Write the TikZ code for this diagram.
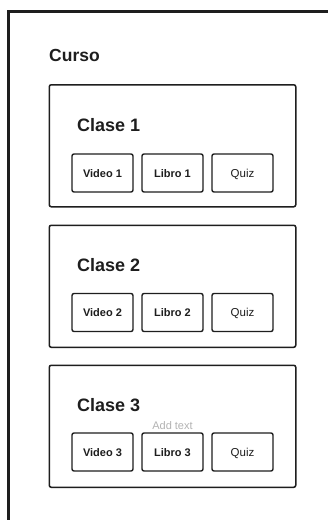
\documentclass[tikz,border=0pt]{standalone}
\usepackage{fontspec}
\setmainfont{Liberation Sans}
\definecolor{ink}{HTML}{1E1E1E}
\definecolor{hint}{HTML}{B3B3B3}
\begin{document}
\begin{tikzpicture}[x=1pt,y=-1pt,
  frame/.style={line width=3pt, draw=ink},
  clase/.style={draw=ink, line width=1.5pt, rounded corners=2pt,
    minimum width=246.5pt, minimum height=122pt, inner sep=0pt, anchor=north west},
  item/.style={draw=ink, line width=1.4pt, rounded corners=2pt,
    minimum width=61pt, minimum height=38pt, inner sep=0pt,
    text height=8pt, text depth=0pt,
    font=\fontsize{11}{13}\selectfont\bfseries, text=ink},
  quiz/.style={item, font=\fontsize{11.5}{13}\selectfont},
  title/.style={anchor=base west, inner sep=0pt, text=ink,
    font=\fontsize{18}{21}\selectfont\bfseries},
  hinttext/.style={inner sep=0pt, text=hint, font=\fontsize{11}{13}\selectfont}]
\useasboundingbox (0,0) rectangle (328,520);
\fill[white] (0,0) rectangle (328,520);

% outer course frame (continues past the page edges)
\coordinate (fb) at (8.7,530);
\coordinate (fc) at (8.7,11.7);
\coordinate (fr) at (340,11.7);
\draw[frame] (fb) -- (fc) -- (fr);
\node[title, font=\fontsize{17.5}{20}\selectfont\bfseries] (curso) at (49,61) {Curso};

% class blocks
\node[clase] (c1) at (48.5,84) {};
\node[clase] (c2) at (48.5,224.5) {};
\node[clase] (c3) at (48.5,364.5) {};

\node[title] (t1) at (77,131) {Clase 1};
\node[title] (t2) at (77,271) {Clase 2};
\node[title] (t3) at (77,411) {Clase 3};

% class 1 items
\node[item] (v1) at (102.5,173) {Video 1};
\node[item] (l1) at (172.5,173) {Libro 1};
\node[quiz] (q1) at (242.5,173) {Quiz};

% class 2 items
\node[item] (v2) at (102.5,312.5) {Video 2};
\node[item] (l2) at (172.5,312.5) {Libro 2};
\node[quiz] (q2) at (242.5,312.5) {Quiz};

% class 3 items
\node[item] (v3) at (102.5,452) {Video 3};
\node[item] (l3) at (172.5,452) {Libro 3};
\node[quiz] (q3) at (242.5,452) {Quiz};
\node[hinttext, anchor=base] (add) at (172.5,429) {Add text};
\end{tikzpicture}
\end{document}
